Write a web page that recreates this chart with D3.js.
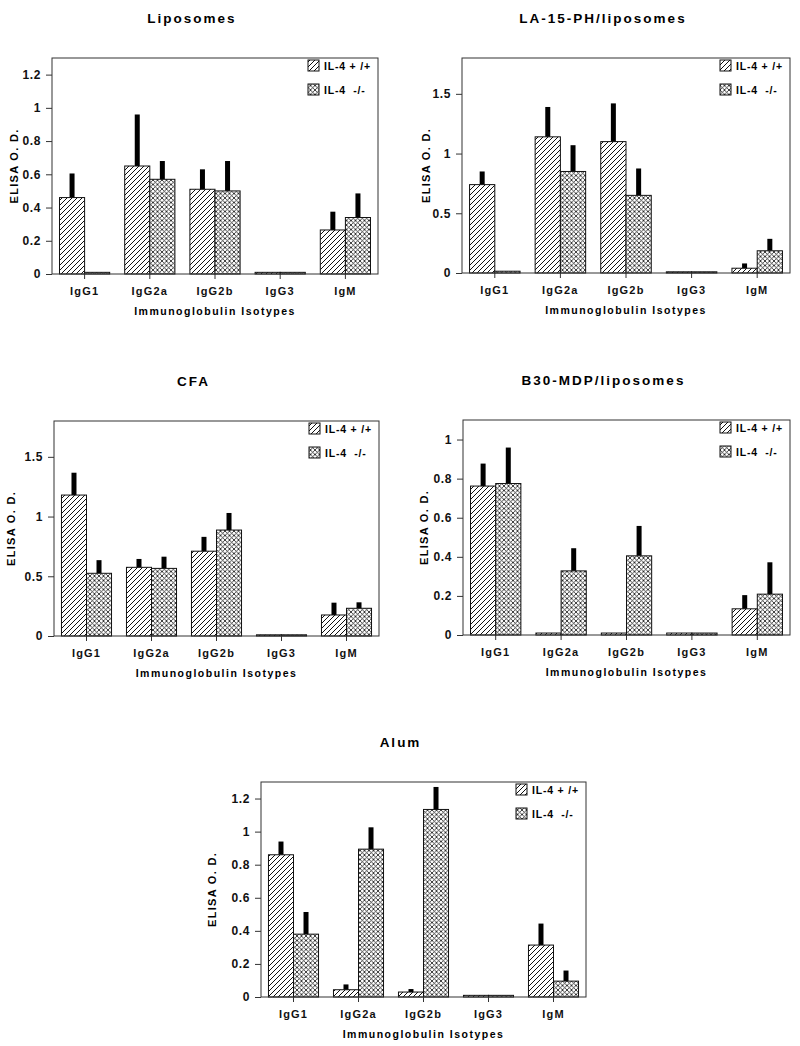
<!DOCTYPE html>
<html>
<head>
<meta charset="utf-8">
<script src="https://cdn.jsdelivr.net/npm/d3@7"></script>
<style>
    body { margin: 0; background: #fff; }
    svg { display: block; font-family: "Liberation Sans", Arial, sans-serif; font-weight: bold; }
</style>
</head>
<body>
<div id="chart"></div>
<script>
/*global d3*/

// Shared categories and legend
var isotypes = ["IgG1", "IgG2a", "IgG2b", "IgG3", "IgM"];
var groups = ["IL-4 + /+", "IL-4  -/-"];

// Panel titles, y maxima and tick labels
var titles = ["Liposomes", "LA-15-PH/liposomes", "CFA", "B30-MDP/liposomes", "Alum"];
var yMax = [1.3, 1.8, 1.8, 1.1, 1.3];
var yTicks = [
    [0, 0.2, 0.4, 0.6, 0.8, 1, 1.2],
    [0, 0.5, 1, 1.5],
    [0, 0.5, 1, 1.5],
    [0, 0.2, 0.4, 0.6, 0.8, 1],
    [0, 0.2, 0.4, 0.6, 0.8, 1, 1.2]
];

// IL-4 +/+ means and error (SD) per panel
var wtMean = [
    [0.46, 0.65, 0.51, 0.01, 0.265],
    [0.74, 1.14, 1.10, 0.01, 0.04],
    [1.18, 0.575, 0.71, 0.01, 0.176],
    [0.762, 0.01, 0.01, 0.01, 0.134],
    [0.86, 0.044, 0.03, 0.01, 0.314]
];
var wtErr = [
    [0.145, 0.31, 0.12, 0, 0.11],
    [0.11, 0.25, 0.32, 0, 0.04],
    [0.187, 0.07, 0.12, 0, 0.103],
    [0.115, 0, 0, 0, 0.07],
    [0.08, 0.032, 0.018, 0, 0.13]
];

// IL-4 -/- means and error (SD) per panel
var koMean = [
    [0.01, 0.57, 0.50, 0.01, 0.34],
    [0.015, 0.85, 0.65, 0.01, 0.186],
    [0.525, 0.566, 0.887, 0.01, 0.232],
    [0.775, 0.328, 0.405, 0.01, 0.209],
    [0.38, 0.894, 1.134, 0.01, 0.096]
];
var koErr = [
    [0, 0.11, 0.18, 0, 0.145],
    [0, 0.22, 0.225, 0, 0.10],
    [0.11, 0.098, 0.143, 0, 0.05],
    [0.184, 0.116, 0.153, 0, 0.163],
    [0.134, 0.132, 0.136, 0, 0.064]
];

// Plot frames (left, top, right, bottom) and y label offset
var frames = [
    {l: 52, t: 58, r: 378, b: 274, yl: 38},
    {l: 462, t: 58, r: 790, b: 273, yl: 36},
    {l: 54, t: 421, r: 379, b: 636, yl: 43},
    {l: 463, t: 420, r: 790, b: 635, yl: 39},
    {l: 261, t: 782, r: 586, b: 997, yl: 49}
];

var svg = d3.select("#chart").append("svg")
    .attr("width", 800)
    .attr("height", 1046);

// Fill patterns: single diagonal hatch and cross hatch
var defs = svg.append("defs");
defs.append("pattern")
    .attr("id", "hatch")
    .attr("patternUnits", "userSpaceOnUse")
    .attr("width", 5).attr("height", 5)
    .append("path")
    .attr("d", "M-1,1 l2,-2 M0,5 l5,-5 M4,6 l2,-2")
    .attr("stroke", "#111").attr("stroke-width", 1);
var cross = defs.append("pattern")
    .attr("id", "cross")
    .attr("patternUnits", "userSpaceOnUse")
    .attr("width", 4.5).attr("height", 4.5);
cross.append("rect").attr("width", 4.5).attr("height", 4.5).attr("fill", "#fff");
cross.append("path")
    .attr("d", "M-1,1 l2,-2 M0,4.5 l4.5,-4.5 M3.5,5.5 l2,-2 M-1,3.5 l2,2 M0,0 l4.5,4.5 M3.5,-1 l2,2")
    .attr("stroke", "#111").attr("stroke-width", 0.8);

var fills = ["url(#hatch)", "url(#cross)"];

function drawPanel(p) {
    var f = frames[p],
        g = svg.append("g"),
        w = f.r - f.l,
        h = f.b - f.t;

    var x0 = d3.scaleBand().domain(isotypes).range([f.l, f.r]).paddingInner(0.23).paddingOuter(0.115);
    var x1 = d3.scaleBand().domain([0, 1]).range([0, x0.bandwidth()]);
    var y = d3.scaleLinear().domain([0, yMax[p]]).range([f.b, f.t]);

    var means = [wtMean[p], koMean[p]],
        errs = [wtErr[p], koErr[p]];

    // Title, a little left of the plot centre
    g.append("text")
        .attr("x", f.l + w / 2 - 23)
        .attr("y", f.t - 35)
        .attr("text-anchor", "middle")
        .attr("font-size", 13.5)
        .attr("letter-spacing", 2)
        .text(titles[p]);

    // Bars and error bars
    isotypes.forEach(function (iso, i) {
        [0, 1].forEach(function (s) {
            var bx = x0(iso) + x1(s),
                v = means[s][i],
                e = errs[s][i];
            if (e > 0) {
                g.append("rect")
                    .attr("x", bx + x1.bandwidth() / 2 - 2.5)
                    .attr("y", y(v + e))
                    .attr("width", 5)
                    .attr("height", y(v) - y(v + e))
                    .attr("fill", "#000");
            }
            g.append("rect")
                .attr("x", bx)
                .attr("y", y(v))
                .attr("width", x1.bandwidth())
                .attr("height", f.b - y(v))
                .attr("fill", fills[s])
                .attr("stroke", "#111")
                .attr("stroke-width", 1);
        });
    });

    // Frame
    g.append("rect")
        .attr("x", f.l).attr("y", f.t)
        .attr("width", w).attr("height", h)
        .attr("fill", "none")
        .attr("stroke", "#333")
        .attr("stroke-width", 1);

    // Y axis
    var yAxis = g.append("g")
        .attr("transform", "translate(" + f.l + ",0)")
        .call(d3.axisLeft(y).tickValues(yTicks[p]).tickSize(6).tickPadding(5).tickFormat(function (d) { return String(d); }));
    yAxis.select(".domain").remove();
    yAxis.selectAll("text").attr("font-size", 12).attr("font-family", null).attr("font-weight", "bold")
        .attr("letter-spacing", 0.6).attr("fill", "#111");
    yAxis.selectAll("line").attr("stroke", "#333");

    // X axis
    var xAxis = g.append("g")
        .attr("transform", "translate(0," + f.b + ")")
        .call(d3.axisBottom(x0).tickSize(5).tickPadding(8));
    xAxis.select(".domain").remove();
    xAxis.selectAll("text").attr("font-size", 11).attr("font-family", null).attr("font-weight", "bold")
        .attr("letter-spacing", 1.2).attr("fill", "#111");
    xAxis.selectAll("line").attr("stroke", "#333");

    // Axis titles
    g.append("text")
        .attr("x", f.l + w / 2)
        .attr("y", f.b + 41)
        .attr("text-anchor", "middle")
        .attr("font-size", 10.5)
        .attr("letter-spacing", 1.5)
        .text("Immunoglobulin Isotypes");
    g.append("text")
        .attr("transform", "translate(" + (f.l - f.yl) + "," + (f.t + h / 2) + ") rotate(-90)")
        .attr("text-anchor", "middle")
        .attr("dy", "0.35em")
        .attr("font-size", 11)
        .attr("letter-spacing", 1.3)
        .text("ELISA O. D.");

    // Legend in the top right corner
    groups.forEach(function (name, s) {
        var ly = f.t + 2 + s * 24;
        g.append("rect")
            .attr("x", f.r - 70).attr("y", ly)
            .attr("width", 11).attr("height", 11)
            .attr("fill", fills[s])
            .attr("stroke", "#111");
        g.append("text")
            .attr("x", f.r - 54).attr("y", ly + 10)
            .attr("font-size", 10.5)
            .attr("letter-spacing", 0.8)
            .attr("xml:space", "preserve")
            .style("white-space", "pre")
            .text(name);
    });
}

for (var p = 0; p < titles.length; p += 1) {
    drawPanel(p);
}
</script>
</body>
</html>
